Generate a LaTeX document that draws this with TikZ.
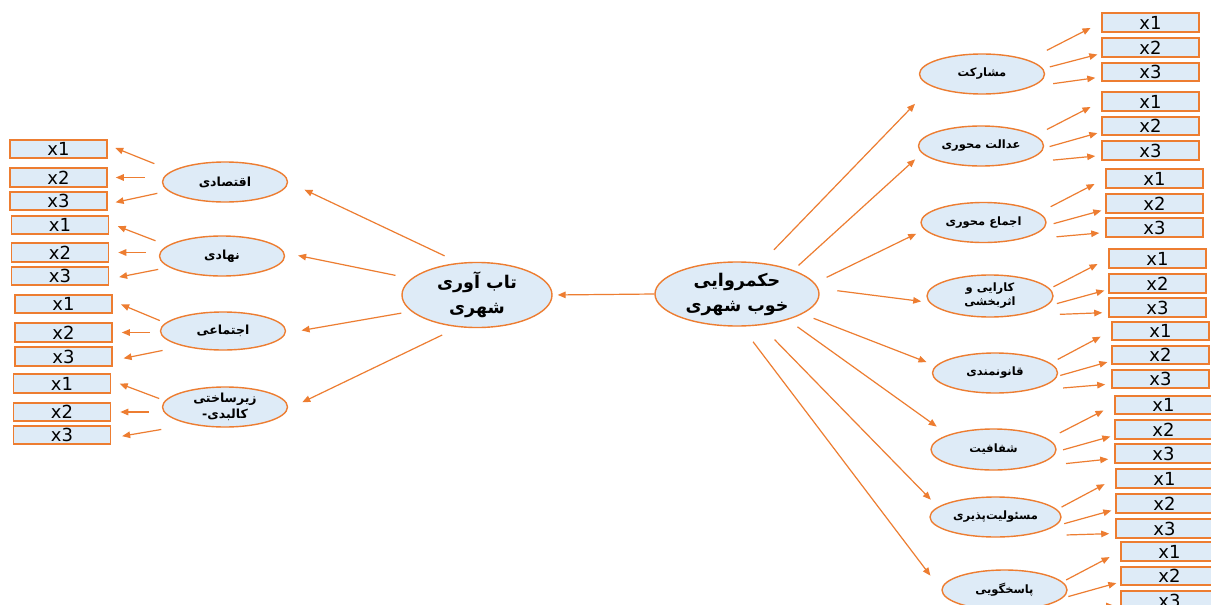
\documentclass[tikz,border=0pt]{standalone}
\usepackage{fontspec}
\setmainfont{DejaVu Sans}
\newfontfamily\fa[Script=Arabic]{DejaVu Sans}
\usetikzlibrary{arrows.meta,shapes.geometric}
\TeXXeTstate=1
\definecolor{edge}{HTML}{ED7D31}
\definecolor{pale}{HTML}{DEEBF7}

\begin{document}
\begin{tikzpicture}[x=1pt,y=-1pt,
  itembox/.style={draw=edge,fill=pale,line width=1.6pt,minimum width=97pt,minimum height=18.5pt,inner sep=0pt,font=\fontsize{18}{18}\selectfont},
  factor/.style={ellipse,draw=edge,fill=pale,line width=1.4pt,minimum width=125pt,minimum height=40pt,inner sep=0pt,align=center,font=\fa\bfseries\fontsize{12.5}{16}\selectfont},
  crit/.style={factor,font=\fa\bfseries\fontsize{11.5}{14}\selectfont},
  mainell/.style={factor,minimum width=150pt,minimum height=64pt,font=\fa\bfseries\fontsize{17.5}{25}\selectfont},
  link/.style={draw=edge,line width=1.2pt,-{Triangle[length=8pt,width=6.5pt]}}]
\useasboundingbox (0,0) rectangle (1211,605);
\clip (0,0) rectangle (1211,605);
\fill[white] (0,0) rectangle (1211,605);

% main constructs
\node[mainell] (tab) at (477,295) {\beginR تاب آوری\endR\\\beginR شهری\endR};
\node[mainell,minimum width=164pt] (hk) at (737,294) {\beginR حکمروایی\endR\\\beginR خوب شهری\endR};
\draw[link,shorten >=5pt] (hk.west) -- (tab.east);

% left side
\node[factor] (eq) at (225,182) {\beginR اقتصادی\endR};
\node[factor] (nh) at (222,256) {\beginR نهادی\endR};
\node[factor,minimum height=38pt] (ej) at (223,331) {\beginR اجتماعی\endR};
\node[factor] (zir) at (225,407) {\beginR زیرساختی\endR\\-\beginR کالبدی\endR};
\draw[link,shorten <=16pt,shorten >=18pt] (tab.119) -- (eq.east);
\draw[link,shorten <=16pt,shorten >=14pt] (tab.166) -- (nh.3);
\draw[link,shorten <=10pt,shorten >=16pt] (tab.194) -- (ej.358);
\draw[link,shorten <=18pt,shorten >=16pt] (tab.240) -- (zir.358);

\node[itembox] (eq1) at (58.5,149) {x1};
\node[itembox] (eq2) at (58.5,177.5) {x2};
\node[itembox] (eq3) at (58.5,201) {x3};
\node[itembox] (nh1) at (60,225) {x1};
\node[itembox] (nh2) at (60,252.5) {x2};
\node[itembox] (nh3) at (60,276) {x3};
\node[itembox] (ej1) at (63.5,304) {x1};
\node[itembox] (ej2) at (63.5,332.5) {x2};
\node[itembox] (ej3) at (63.5,356.5) {x3};
\node[itembox] (zir1) at (62,383.5) {x1};
\node[itembox] (zir2) at (62,412) {x2};
\node[itembox] (zir3) at (62,435) {x3};

\draw[link,shorten <=19pt,shorten >=8pt] (eq.168) -- ([yshift=4pt]eq1.east);
\draw[link,shorten <=17pt,shorten >=8pt] (eq.west |- eq2) -- (eq2.east);
\draw[link,shorten <=11pt,shorten >=8pt] (eq.189) -- ([yshift=-3pt]eq3.east);
\draw[link,shorten <=13pt,shorten >=9pt] (nh.169) -- ([yshift=2pt]nh1.east);
\draw[link,shorten <=13pt,shorten >=9pt] (nh.west |- nh2) -- (nh2.east);
\draw[link,shorten <=11pt,shorten >=10pt] (nh.192) -- ([yshift=-3pt]nh3.east);
\draw[link,shorten <=6pt,shorten >=9pt] (ej.172) -- ([yshift=3pt]ej1.east);
\draw[link,shorten <=10pt,shorten >=9pt] (ej.west |- ej2) -- (ej2.east);
\draw[link,shorten <=21pt,shorten >=11pt] (ej.201) -- ([yshift=-4pt]ej3.east);
\draw[link,shorten <=6pt,shorten >=9pt] (zir.174) -- ([yshift=3pt]zir1.east);
\draw[link,shorten <=13pt,shorten >=9pt] (zir.west |- zir2) -- (zir2.east);
\draw[link,shorten <=30pt,shorten >=11pt] (zir.207) -- ([yshift=-3pt]zir3.east);

% right side
\node[crit] (mosh) at (982,74) {\beginR مشارکت\endR};
\node[crit] (edl) at (981,146) {\beginR عدالت محوری\endR};
\node[crit] (ejm) at (983.5,222.5) {\beginR اجماع محوری\endR};
\node[crit,minimum width=126pt,minimum height=42pt] (kar) at (990,296) {\beginR کارایی و\endR\\\beginR اثربخشی\endR};
\node[crit] (qan) at (995,373) {\beginR قانونمندی\endR};
\node[crit,minimum height=41pt] (shf) at (993.5,449.5) {\beginR شفافیت\endR};
\node[crit,minimum width=131pt] (msl) at (995.5,517) {\beginR مسئولیت^^^^200cپذیری\endR};
\node[crit] (pas) at (1004.5,590) {\beginR پاسخگویی\endR};
\draw[link,shorten <=18pt,shorten >=24pt] (hk.52) -- (mosh.194);
\draw[link,shorten <=7pt,shorten >=9pt] (hk.23) -- (edl.187);
\draw[link,shorten <=13pt,shorten >=9pt] (hk.8) -- (ejm.187);
\draw[link,shorten <=19pt,shorten >=8pt] (hk.4) -- (kar.186);
\draw[link,shorten <=12pt,shorten >=10pt] (hk.343) -- (qan.173);
\draw[link,shorten <=12pt,shorten >=14pt] (hk.333) -- (shf.162);
\draw[link,shorten <=20pt,shorten >=10pt] (hk.307) -- (msl.170);
\draw[link,shorten <=19pt,shorten >=18pt] (hk.278) -- (pas.west);

\node[itembox] (mosh1) at (1150.5,22.5) {x1};
\node[itembox] (mosh2) at (1150.5,47.5) {x2};
\node[itembox] (mosh3) at (1150.5,72) {x3};
\node[itembox] (edl1) at (1150.5,101.5) {x1};
\node[itembox] (edl2) at (1150.5,126) {x2};
\node[itembox] (edl3) at (1150.5,150.5) {x3};
\node[itembox] (ejm1) at (1154.5,178.5) {x1};
\node[itembox] (ejm2) at (1154.5,203.5) {x2};
\node[itembox] (ejm3) at (1154.5,227.5) {x3};
\node[itembox] (kar1) at (1157.5,258.5) {x1};
\node[itembox] (kar2) at (1157.5,283.5) {x2};
\node[itembox] (kar3) at (1157.5,307.5) {x3};
\node[itembox] (qan1) at (1160.5,331) {x1};
\node[itembox] (qan2) at (1160.5,355) {x2};
\node[itembox] (qan3) at (1160.5,379) {x3};
\node[itembox] (shf1) at (1163.5,405) {x1};
\node[itembox] (shf2) at (1163.5,429.5) {x2};
\node[itembox] (shf3) at (1163.5,453.5) {x3};
\node[itembox] (msl1) at (1164.5,478.5) {x1};
\node[itembox] (msl2) at (1164.5,503.5) {x2};
\node[itembox] (msl3) at (1164.5,528.5) {x3};
\node[itembox] (pas1) at (1169.5,551.5) {x1};
\node[itembox] (pas2) at (1169.5,576) {x2};
\node[itembox] (pas3) at (1169.5,600.5) {x3};

\draw[link,shorten <=21pt,shorten >=12pt] (mosh.17) -- (mosh1.west);
\draw[link,shorten <=7pt,shorten >=4pt] (mosh.5) -- ([yshift=-6pt]mosh2.west);
\draw[link,shorten <=21pt,shorten >=6pt] (mosh.346) -- ([yshift=-5pt]mosh3.west);
\draw[link,shorten <=13pt,shorten >=12pt] (edl.11) -- (edl1.west);
\draw[link,shorten <=6pt,shorten >=4pt] (edl.358) -- ([yshift=-6pt]edl2.west);
\draw[link,shorten <=41pt,shorten >=6pt] (edl.330) -- ([yshift=-5pt]edl3.west);
\draw[link,shorten <=13pt,shorten >=12pt] (ejm.10) -- (ejm1.west);
\draw[link,shorten <=8pt,shorten >=4pt] (ejm.357) -- ([yshift=-6pt]ejm2.west);
\draw[link,shorten <=42pt,shorten >=6pt] (ejm.330) -- ([yshift=-5pt]ejm3.west);
\draw[link,shorten <=4pt,shorten >=12pt] (kar.7) -- (kar1.west);
\draw[link,shorten <=12pt,shorten >=4pt] (kar.349) -- ([yshift=-6pt]kar2.west);
\draw[link,shorten <=46pt,shorten >=6pt] (kar.320) -- ([yshift=-5pt]kar3.west);
\draw[link,shorten <=8pt,shorten >=12pt] (qan.10) -- (qan1.west);
\draw[link,shorten <=3pt,shorten >=4pt] (qan.357) -- ([yshift=-6pt]qan2.west);
\draw[link,shorten <=37pt,shorten >=6pt] (qan.330) -- ([yshift=-5pt]qan3.west);
\draw[link,shorten <=13pt,shorten >=12pt] (shf.11) -- (shf1.west);
\draw[link,shorten <=7pt,shorten >=4pt] (shf.358) -- ([yshift=-6pt]shf2.west);
\draw[link,shorten <=41pt,shorten >=6pt] (shf.330) -- ([yshift=-5pt]shf3.west);
\draw[link,shorten <=5pt,shorten >=12pt] (msl.7) -- (msl1.west);
\draw[link,shorten <=10pt,shorten >=4pt] (msl.351) -- ([yshift=-6pt]msl2.west);
\draw[link,shorten <=48pt,shorten >=6pt] (msl.320) -- ([yshift=-5pt]msl3.west);
\draw[link,shorten <=4pt,shorten >=12pt] (pas.8) -- (pas1.west);
\draw[link,shorten <=6pt,shorten >=4pt] (pas.352) -- ([yshift=-6pt]pas2.west);
\draw[link,shorten <=44pt,shorten >=6pt] (pas.320) -- ([yshift=-5pt]pas3.west);
\end{tikzpicture}
\end{document}
